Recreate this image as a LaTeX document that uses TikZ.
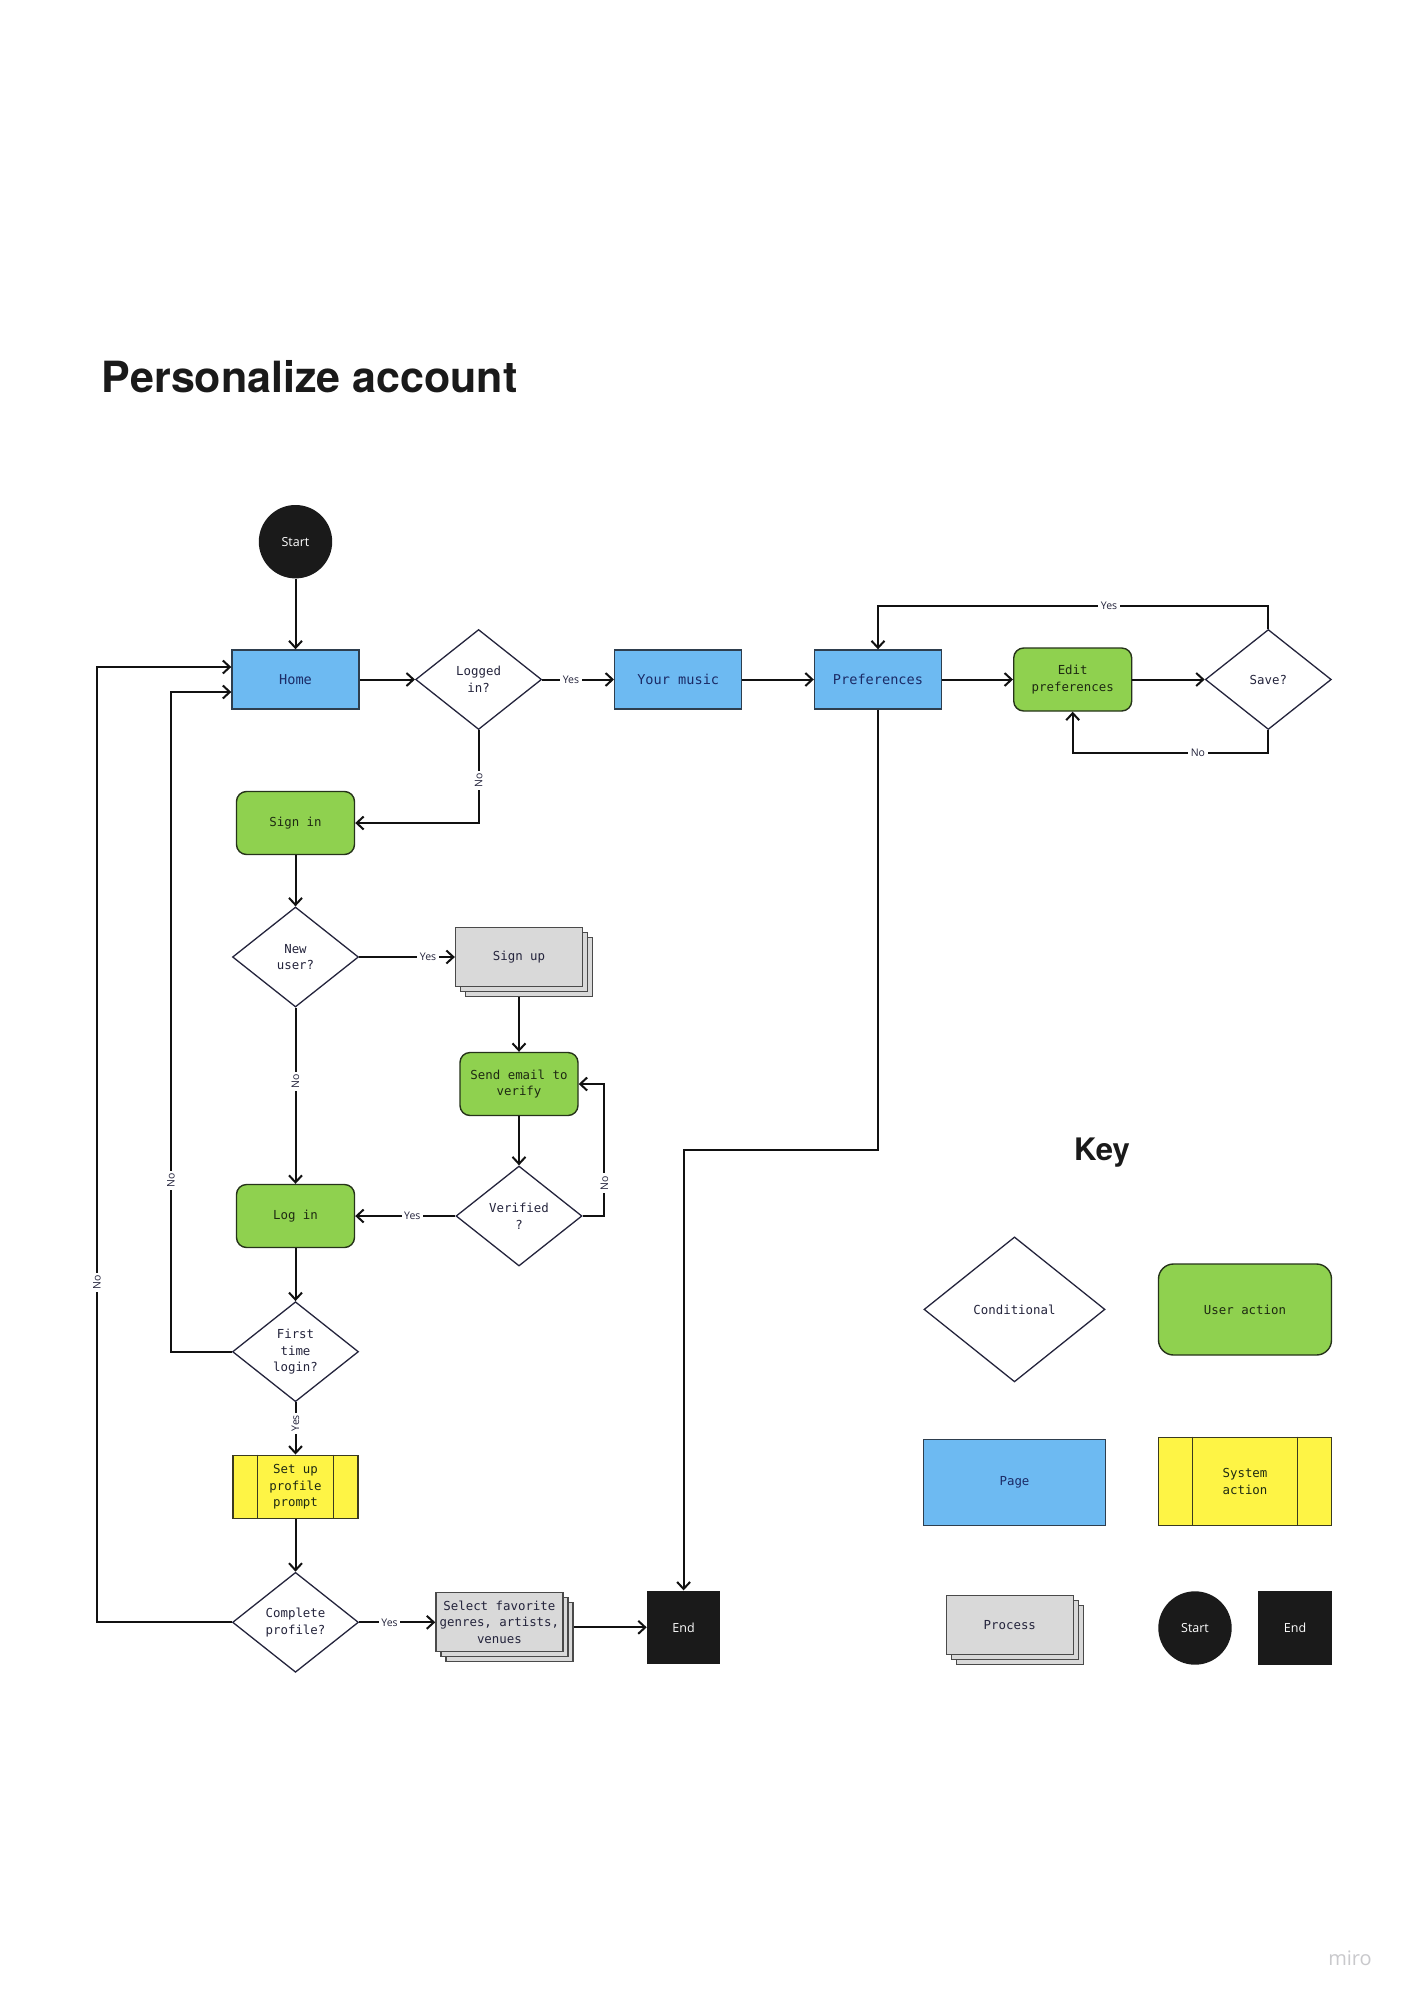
\documentclass[tikz,border=0pt]{standalone}
\usepackage{fontspec}
\usetikzlibrary{shapes.geometric,arrows.meta,shadows}
\newfontfamily\monofam{DejaVu Sans Mono}
\newfontfamily\lblfam{Open Sans}
\newfontfamily\headfam{TeX Gyre Heros}
\newcommand\mynodefont{\monofam\fontsize{12.4}{16.8}\selectfont}
\newcommand\mypagefont{\monofam\fontsize{13.6}{16.8}\selectfont}
\newcommand\mylblfont{\lblfam\fontsize{10.5}{10.5}\selectfont}
\definecolor{pageblue}{HTML}{6DBAF2}
\definecolor{pageborder}{HTML}{2E3E4E}
\definecolor{usergreen}{HTML}{8FD14F}
\definecolor{greenborder}{HTML}{26331A}
\definecolor{sysyellow}{HTML}{FEF445}
\definecolor{yellowborder}{HTML}{3A3A20}
\definecolor{procgray}{HTML}{D9D9D9}
\definecolor{grayborder}{HTML}{4A4A4A}
\definecolor{blackfill}{HTML}{1A1A1A}
\definecolor{navytext}{HTML}{1B2B66}
\definecolor{darktext}{HTML}{24243C}
\definecolor{greentext}{HTML}{1E2A12}
\definecolor{linecol}{HTML}{111111}
\definecolor{mirogray}{HTML}{C9C9CC}
\begin{document}
\begin{tikzpicture}[x=1pt,y=-1pt,
  base/.style={font=\mynodefont, text=darktext, align=center, inner sep=0pt},
  page/.style={base, rectangle, draw=pageborder, fill=pageblue, line width=1.4pt,
    minimum width=127pt, minimum height=59pt, text=navytext, font=\mypagefont},
  useract/.style={base, rectangle, rounded corners=10pt, draw=greenborder, fill=usergreen,
    line width=1.4pt, minimum width=118pt, minimum height=63pt, text=greentext},
  decision/.style={base, diamond, aspect=1.26, draw=darktext, fill=white, line width=1.3pt,
    minimum width=126pt, minimum height=100pt},
  sysact/.style={base, rectangle, draw=yellowborder, fill=sysyellow, line width=1.4pt,
    minimum width=125pt, minimum height=63pt, text=greentext},
  procstack/.style={base, rectangle, draw=grayborder, fill=procgray, line width=1.3pt,
    minimum width=127pt, minimum height=59pt,
    double copy shadow={shadow xshift=5pt, shadow yshift=-5pt}},
  startstyle/.style={circle, fill=blackfill, minimum size=73.4pt, inner sep=0pt,
    text=white, font=\lblfam\fontsize{12.5}{12.5}\selectfont},
  endstyle/.style={rectangle, fill=blackfill, minimum size=73.4pt, inner sep=0pt,
    text=white, font=\lblfam\fontsize{12.5}{12.5}\selectfont},
  arr/.style={draw=linecol, line width=2pt, -{Straight Barb[length=7pt,width=13pt]}},
  lbl/.style={fill=white, inner xsep=2.5pt, inner ysep=1pt, text=darktext, font=\mylblfont},
  band/.style={draw=yellowborder, line width=1.4pt}
]
\useasboundingbox (0,0) rectangle (1405,1999);
\fill[white] (0,0) rectangle (1405,1999);

% title
\node[anchor=base west, font=\headfam\bfseries\fontsize{43}{43}\selectfont, text=blackfill, inner sep=0pt]
  (title) at (101.7,392.3) {Personalize account};

% main flow nodes
\node[startstyle] (start) at (295.5,541.7) {Start};
\node[page] (home) at (295.5,679.5) {Home};
\node[decision] (logged) at (478.6,679.5) {Logged\\in?};
\node[page] (yourmusic) at (678.2,679.5) {Your music};
\node[page] (prefs) at (878,679.5) {Preferences};
\node[useract] (editprefs) at (1072.7,679.5) {Edit\\preferences};
\node[decision] (save) at (1268.3,679.5) {Save?};
\node[useract] (signin) at (295.5,823) {Sign in};
\node[decision] (newuser) at (295.5,957) {New\\user?};
\node[procstack] (signup) at (519,957) {Sign up};
\node[useract] (sendemail) at (519,1084) {Send email to\\verify};
\node[decision] (verified) at (519,1216) {Verified\\?};
\node[useract] (login) at (295.5,1216) {Log in};
\node[decision] (firsttime) at (295.5,1351.7) {First\\time\\login?};
\node[sysact] (setup) at (295.5,1486.7) {Set up\\profile\\prompt};
\draw[band] ([xshift=25pt]setup.north west) -- ([xshift=25pt]setup.south west);
\draw[band] ([xshift=-25pt]setup.north east) -- ([xshift=-25pt]setup.south east);
\node[decision] (complete) at (295.5,1622.3) {Complete\\profile?};
\node[procstack] (select) at (499.4,1622.3) {Select favorite\\genres, artists,\\venues};
\node[endstyle] (finish) at (683.6,1627.3) {End};

% connectors
\draw[arr] (start) -- (home);
\draw[arr] (home) -- (logged);
\draw[arr] (logged) -- node[lbl,pos=0.4]{Yes} (yourmusic);
\draw[arr] (yourmusic) -- (prefs);
\draw[arr] (prefs) -- (editprefs);
\draw[arr] (editprefs) -- (save);
\draw[arr] (save.north) -- ++(0,-22.6) -| node[lbl,pos=0.204]{Yes} (prefs.north);
\draw[arr] (save.south) -- ++(0,22.4) -| node[lbl,pos=0.18]{No} (editprefs.south);
\draw[arr] (logged.south) |- node[lbl,pos=0.27,rotate=90]{No} (signin.east);
\draw[arr] (signin) -- (newuser);
\draw[arr] (newuser) -- node[lbl,pos=0.72]{Yes} (signup);
\draw[arr] (newuser) -- node[lbl,pos=0.42,rotate=90]{No} (login);
\draw[arr] ([yshift=-10pt]signup.south) -- (sendemail);
\draw[arr] (sendemail) -- (verified);
\draw[arr] (verified.east) -- ++(21.7,0) |- node[lbl,pos=0.125,rotate=90]{No} (sendemail.east);
\draw[arr] (verified) -- node[lbl,pos=0.43]{Yes} (login);
\draw[arr] (login) -- (firsttime);
\draw[arr] (firsttime.west) -- ++(-61,0) |- node[lbl,pos=0.13,rotate=90]{No} ([yshift=-12.5pt]home.west);
\draw[arr] (firsttime) -- node[lbl,pos=0.4,rotate=90]{Yes} (setup);
\draw[arr] (setup) -- (complete);
\draw[arr] (complete.west) -- ++(-134.8,0) |- node[lbl,pos=0.178,rotate=90]{No} ([yshift=12.5pt]home.west);
\draw[arr] (complete) -- node[lbl,pos=0.4]{Yes} (select);
\draw[arr] ([xshift=10pt,yshift=-5pt]select.east) -- (finish.west);
\draw[arr] (prefs.south) -- ++(0,440.6) -| (finish.north);

% key
\node[anchor=base west, font=\headfam\bfseries\fontsize{31}{31}\selectfont, text=blackfill, inner sep=0pt]
  (keytitle) at (1074,1160) {Key};
\node[decision, minimum width=181pt, minimum height=145pt] (kcond) at (1014.5,1309.4) {Conditional};
\node[useract, minimum width=173pt, minimum height=91pt, rounded corners=15pt] (kuser) at (1245,1309.5) {User action};
\node[page, minimum width=182pt, minimum height=86pt, font=\mynodefont] (kpage) at (1014.5,1482.7) {Page};
\node[sysact, minimum width=173pt, minimum height=88pt] (ksys) at (1245,1481.4) {System\\action};
\draw[band] ([xshift=34.7pt]ksys.north west) -- ([xshift=34.7pt]ksys.south west);
\draw[band] ([xshift=-34.7pt]ksys.north east) -- ([xshift=-34.7pt]ksys.south east);
\node[procstack] (kproc) at (1009.8,1625.3) {Process};
\node[startstyle] (kstart) at (1195,1628) {Start};
\node[endstyle] (kend) at (1295,1628) {End};

% watermark
\node[font=\lblfam\fontsize{20}{20}\selectfont, text=mirogray, inner sep=0pt] (miro) at (1350,1958) {miro};
\end{tikzpicture}
\end{document}
